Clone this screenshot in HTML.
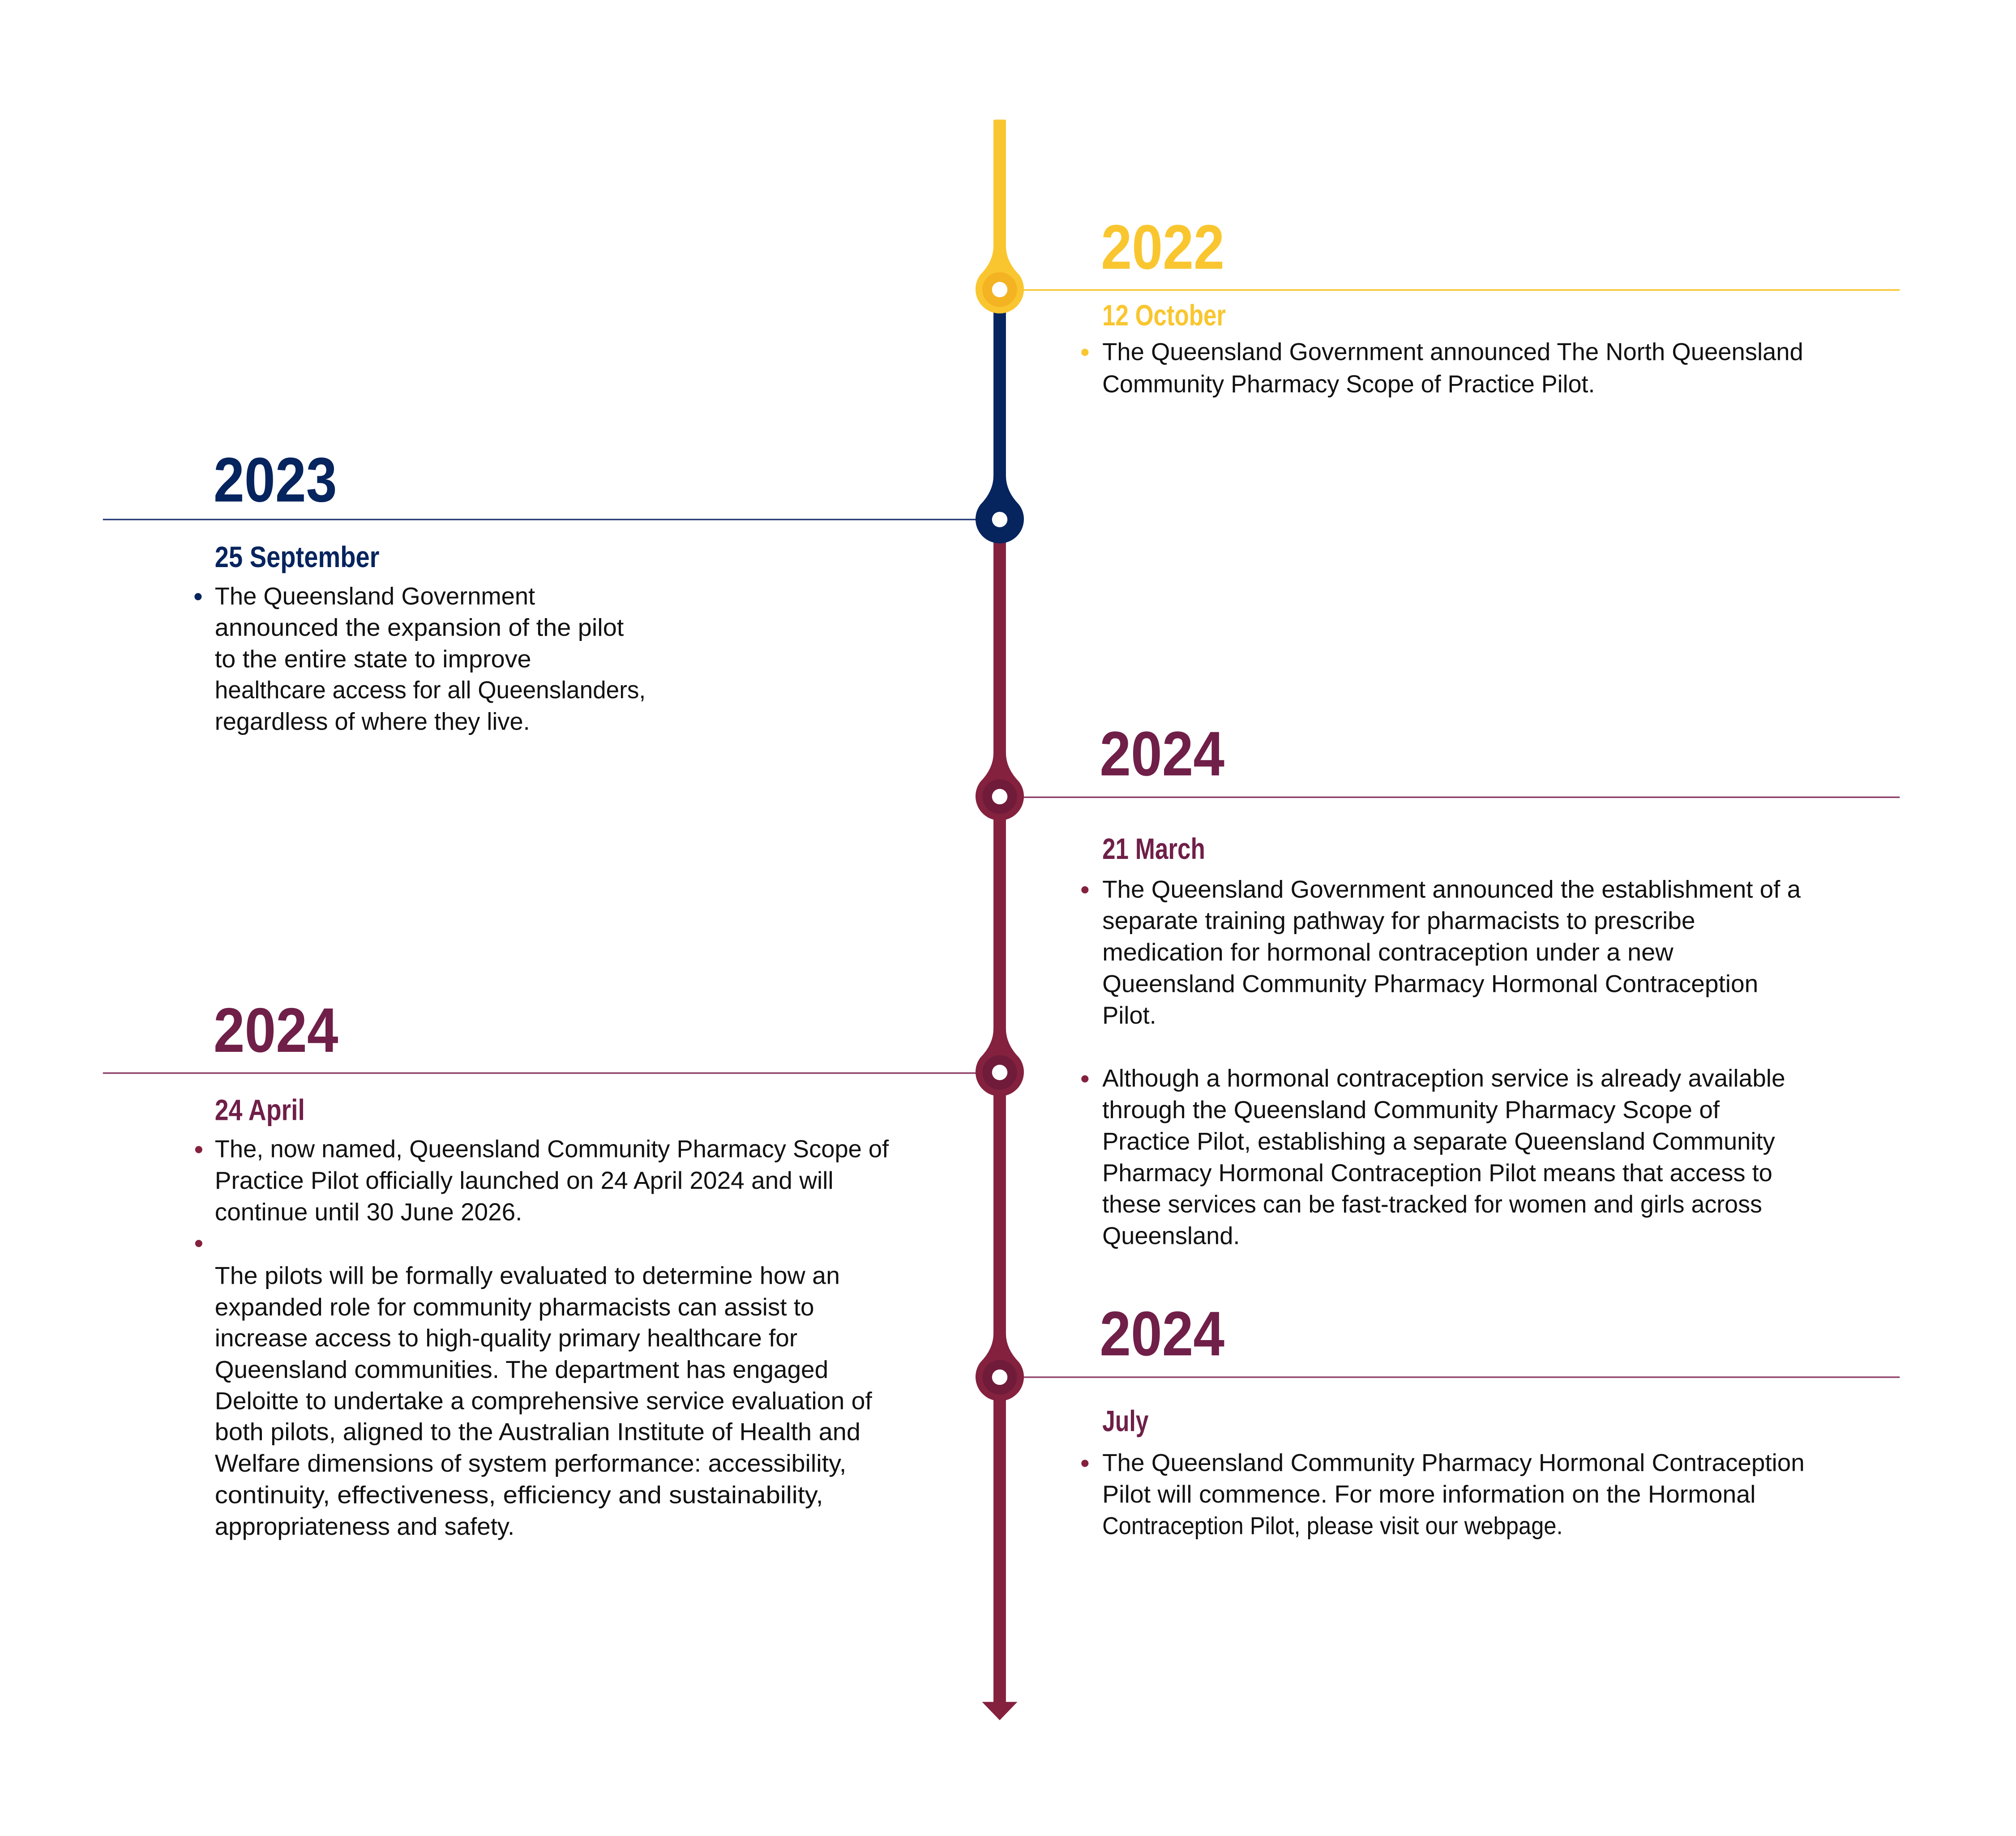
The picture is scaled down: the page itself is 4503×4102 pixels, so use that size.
<!DOCTYPE html>
<html><head><meta charset="utf-8"><style>
html,body{margin:0;padding:0;background:#fff;}
svg{display:block;}
.y{font-family:"Liberation Sans",sans-serif;font-weight:bold;font-size:49px;}
.d{font-family:"Liberation Sans",sans-serif;font-weight:bold;font-size:23px;}
.b{font-family:"Liberation Sans",sans-serif;font-size:19px;fill:#111;}
</style></head><body>
<svg width="4503" height="4102" viewBox="0 0 1567.4 1427.8" xmlns="http://www.w3.org/2000/svg">
<rect width="1567.4" height="1427.8" fill="#fff"/>
<!-- horizontal lines -->
<line x1="795" y1="225.5" x2="1477" y2="225.5" stroke="#F9C62F" stroke-width="1.2"/>
<line x1="80" y1="404" x2="762" y2="404" stroke="#2A3F7A" stroke-width="1.2"/>
<line x1="795" y1="620" x2="1477" y2="620" stroke="#8E4068" stroke-width="1.2"/>
<line x1="80" y1="834.5" x2="762" y2="834.5" stroke="#8E4068" stroke-width="1.2"/>
<line x1="795" y1="1071" x2="1477" y2="1071" stroke="#8E4068" stroke-width="1.2"/>
<!-- spine -->
<rect x="772.4" y="93" width="9.7" height="140" rx="1" fill="#F9C62F"/>
<rect x="772.4" y="225" width="9.7" height="180" fill="#06245E"/>
<rect x="772.4" y="404" width="9.7" height="920" fill="#84213F"/>
<polygon points="763.5,1323.5 791,1323.5 777.25,1337.8" fill="#84213F"/>
<!-- nodes -->
<g transform="translate(777.25,225.2)">
<path d="M-4.85,-34 Q-4.85,-22 -15,-11.6 A18.8 18.8 0 1 0 15,-11.6 Q4.85,-22 4.85,-34 Z" fill="#F9C62F"/>
<circle r="13.5" fill="#F4B322"/>
<circle r="6" fill="#fff"/>
</g>
<g transform="translate(777.25,404)">
<path d="M-4.85,-34 Q-4.85,-22 -15,-11.6 A18.8 18.8 0 1 0 15,-11.6 Q4.85,-22 4.85,-34 Z" fill="#06245E"/>
<circle r="6" fill="#fff"/>
</g>
<g transform="translate(777.25,619.5)">
<path d="M-4.85,-34 Q-4.85,-22 -15,-11.6 A18.8 18.8 0 1 0 15,-11.6 Q4.85,-22 4.85,-34 Z" fill="#84213F"/>
<circle r="13.5" fill="#711B3A"/>
<circle r="6" fill="#fff"/>
</g>
<g transform="translate(777.25,834)">
<path d="M-4.85,-34 Q-4.85,-22 -15,-11.6 A18.8 18.8 0 1 0 15,-11.6 Q4.85,-22 4.85,-34 Z" fill="#84213F"/>
<circle r="13.5" fill="#711B3A"/>
<circle r="6" fill="#fff"/>
</g>
<g transform="translate(777.25,1071)">
<path d="M-4.85,-34 Q-4.85,-22 -15,-11.6 A18.8 18.8 0 1 0 15,-11.6 Q4.85,-22 4.85,-34 Z" fill="#84213F"/>
<circle r="13.5" fill="#711B3A"/>
<circle r="6" fill="#fff"/>
</g>

<!-- 2022 -->
<text class="y" x="856" y="209" textLength="96" lengthAdjust="spacingAndGlyphs" fill="#F9C62F">2022</text>
<text class="d" x="857" y="253" textLength="96" lengthAdjust="spacingAndGlyphs" fill="#F9C62F">12 October</text>
<circle cx="843.5" cy="274" r="2.8" fill="#F9C62F"/>
<text class="b" x="857" y="280" textLength="545" lengthAdjust="spacingAndGlyphs">The Queensland Government announced The North Queensland</text>
<text class="b" x="857" y="305" textLength="383" lengthAdjust="spacingAndGlyphs">Community Pharmacy Scope of Practice Pilot.</text>

<!-- 2023 -->
<text class="y" x="166" y="390" textLength="96" lengthAdjust="spacingAndGlyphs" fill="#06245E">2023</text>
<text class="d" x="167" y="441" textLength="128" lengthAdjust="spacingAndGlyphs" fill="#06245E">25 September</text>
<circle cx="154" cy="464" r="2.8" fill="#06245E"/>
<text class="b" x="167" y="470" textLength="249" lengthAdjust="spacingAndGlyphs">The Queensland Government</text>
<text class="b" x="167" y="494.5" textLength="318" lengthAdjust="spacingAndGlyphs">announced the expansion of the pilot</text>
<text class="b" x="167" y="519" textLength="246" lengthAdjust="spacingAndGlyphs">to the entire state to improve</text>
<text class="b" x="167" y="543" textLength="335" lengthAdjust="spacingAndGlyphs">healthcare access for all Queenslanders,</text>
<text class="b" x="167" y="567.5" textLength="245" lengthAdjust="spacingAndGlyphs">regardless of where they live.</text>

<!-- 2024 March -->
<text class="y" x="855" y="603" textLength="97" lengthAdjust="spacingAndGlyphs" fill="#6F1F48">2024</text>
<text class="d" x="857" y="668" textLength="80" lengthAdjust="spacingAndGlyphs" fill="#6F1F48">21 March</text>
<circle cx="843.5" cy="692" r="2.8" fill="#84213F"/>
<text class="b" x="857" y="698" textLength="543" lengthAdjust="spacingAndGlyphs">The Queensland Government announced the establishment of a</text>
<text class="b" x="857" y="722.5" textLength="461" lengthAdjust="spacingAndGlyphs">separate training pathway for pharmacists to prescribe</text>
<text class="b" x="857" y="747" textLength="444" lengthAdjust="spacingAndGlyphs">medication for hormonal contraception under a new</text>
<text class="b" x="857" y="771.5" textLength="510" lengthAdjust="spacingAndGlyphs">Queensland Community Pharmacy Hormonal Contraception</text>
<text class="b" x="857" y="796" textLength="42" lengthAdjust="spacingAndGlyphs">Pilot.</text>
<circle cx="843.5" cy="839" r="2.8" fill="#84213F"/>
<text class="b" x="857" y="845" textLength="531" lengthAdjust="spacingAndGlyphs">Although a hormonal contraception service is already available</text>
<text class="b" x="857" y="869.5" textLength="480" lengthAdjust="spacingAndGlyphs">through the Queensland Community Pharmacy Scope of</text>
<text class="b" x="857" y="894" textLength="523" lengthAdjust="spacingAndGlyphs">Practice Pilot, establishing a separate Queensland Community</text>
<text class="b" x="857" y="918.5" textLength="521" lengthAdjust="spacingAndGlyphs">Pharmacy Hormonal Contraception Pilot means that access to</text>
<text class="b" x="857" y="943" textLength="513" lengthAdjust="spacingAndGlyphs">these services can be fast-tracked for women and girls across</text>
<text class="b" x="857" y="967.5" textLength="107" lengthAdjust="spacingAndGlyphs">Queensland.</text>

<!-- 2024 April -->
<text class="y" x="166" y="818" textLength="97" lengthAdjust="spacingAndGlyphs" fill="#6F1F48">2024</text>
<text class="d" x="167" y="871" textLength="70" lengthAdjust="spacingAndGlyphs" fill="#6F1F48">24 April</text>
<circle cx="154.5" cy="894" r="2.8" fill="#84213F"/>
<text class="b" x="167" y="900" textLength="524" lengthAdjust="spacingAndGlyphs">The, now named, Queensland Community Pharmacy Scope of</text>
<text class="b" x="167" y="924.5" textLength="481" lengthAdjust="spacingAndGlyphs">Practice Pilot officially launched on 24 April 2024 and will</text>
<text class="b" x="167" y="949" textLength="239" lengthAdjust="spacingAndGlyphs">continue until 30 June 2026.</text>
<circle cx="154.5" cy="967" r="2.8" fill="#84213F"/>
<text class="b" x="167" y="998.5" textLength="486" lengthAdjust="spacingAndGlyphs">The pilots will be formally evaluated to determine how an</text>
<text class="b" x="167" y="1023" textLength="466" lengthAdjust="spacingAndGlyphs">expanded role for community pharmacists can assist to</text>
<text class="b" x="167" y="1047" textLength="453" lengthAdjust="spacingAndGlyphs">increase access to high-quality primary healthcare for</text>
<text class="b" x="167" y="1071.5" textLength="477" lengthAdjust="spacingAndGlyphs">Queensland communities. The department has engaged</text>
<text class="b" x="167" y="1096" textLength="511" lengthAdjust="spacingAndGlyphs">Deloitte to undertake a comprehensive service evaluation of</text>
<text class="b" x="167" y="1120" textLength="502" lengthAdjust="spacingAndGlyphs">both pilots, aligned to the Australian Institute of Health and</text>
<text class="b" x="167" y="1144.5" textLength="491" lengthAdjust="spacingAndGlyphs">Welfare dimensions of system performance: accessibility,</text>
<text class="b" x="167" y="1169" textLength="473" lengthAdjust="spacingAndGlyphs">continuity, effectiveness, efficiency and sustainability,</text>
<text class="b" x="167" y="1193.5" textLength="233" lengthAdjust="spacingAndGlyphs">appropriateness and safety.</text>

<!-- 2024 July -->
<text class="y" x="855" y="1054" textLength="97" lengthAdjust="spacingAndGlyphs" fill="#6F1F48">2024</text>
<text class="d" x="857" y="1113" textLength="36" lengthAdjust="spacingAndGlyphs" fill="#6F1F48">July</text>
<circle cx="843.5" cy="1138" r="2.8" fill="#84213F"/>
<text class="b" x="857" y="1144" textLength="546" lengthAdjust="spacingAndGlyphs">The Queensland Community Pharmacy Hormonal Contraception</text>
<text class="b" x="857" y="1168.5" textLength="508" lengthAdjust="spacingAndGlyphs">Pilot will commence. For more information on the Hormonal</text>
<text class="b" x="857" y="1193" textLength="358" lengthAdjust="spacingAndGlyphs">Contraception Pilot, please visit our webpage.</text>
</svg>
</body></html>
